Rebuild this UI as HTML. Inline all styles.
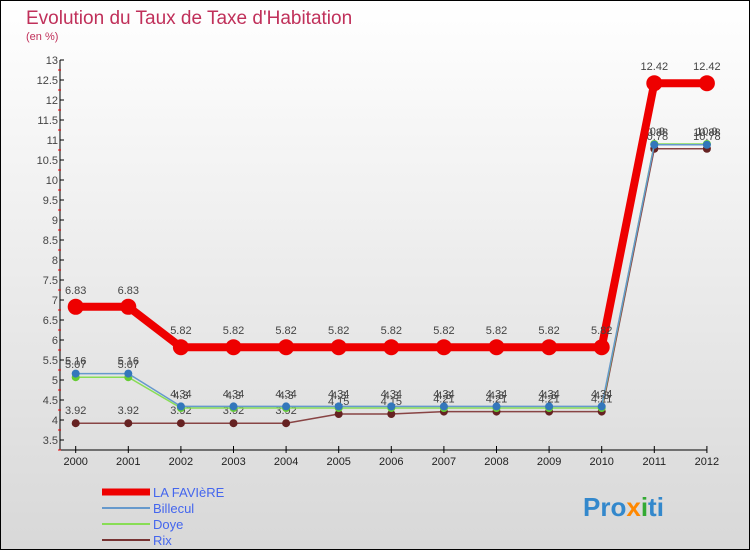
<!DOCTYPE html>
<html><head><meta charset="utf-8"><style>
body{margin:0}
#c{width:750px;height:550px;position:relative;font-family:"Liberation Sans",sans-serif;overflow:hidden}
</style></head><body>
<div id="c">
<svg id="s" width="750" height="550" xmlns="http://www.w3.org/2000/svg">
<defs><linearGradient id="bg" x1="0" y1="0" x2="0" y2="1"><stop offset="0" stop-color="#ffffff"/><stop offset="1" stop-color="#d8d8d8"/></linearGradient></defs>
<rect x="0.5" y="0.5" width="749" height="549" fill="url(#bg)" stroke="#000"/>
<text x="26" y="24" font-size="19" fill="#c0305a">Evolution du Taux de Taxe d'Habitation</text>
<text x="26" y="40" font-size="11" fill="#c0305a">(en %)</text>
<g id="ax"></g><g id="series"></g>
<g>
<line x1="102" y1="492" x2="150" y2="492" stroke="#ee0000" stroke-width="7"/><text x="153" y="497" font-size="13" fill="#4466ee">LA FAVIèRE</text>
<line x1="102" y1="508" x2="150" y2="508" stroke="#6699cc" stroke-width="2"/><text x="153" y="513" font-size="13" fill="#4466ee">Billecul</text>
<line x1="102" y1="524" x2="150" y2="524" stroke="#88dd55" stroke-width="2"/><text x="153" y="529" font-size="13" fill="#4466ee">Doye</text>
<line x1="102" y1="540" x2="150" y2="540" stroke="#773333" stroke-width="2"/><text x="153" y="545" font-size="13" fill="#4466ee">Rix</text>
</g>
<text x="583" y="516" font-size="26" font-weight="bold"><tspan fill="#3388cc">Pro</tspan><tspan fill="#ff8800">x</tspan><tspan fill="#33aa33">i</tspan><tspan fill="#3388cc">ti</tspan></text>
</svg></div>
<script>
const years=["2000","2001","2002","2003","2004","2005","2006","2007","2008","2009","2010","2011","2012"];
const faviere=[6.83,6.83,5.82,5.82,5.82,5.82,5.82,5.82,5.82,5.82,5.82,12.42,12.42];
const billecul=[5.16,5.16,4.34,4.34,4.34,4.34,4.34,4.34,4.34,4.34,4.34,10.88,10.88];
const doye=[5.07,5.07,4.3,4.3,4.3,4.3,4.3,4.3,4.3,4.3,4.3,10.9,10.9];
const rix=[3.92,3.92,3.92,3.92,3.92,4.15,4.15,4.21,4.21,4.21,4.21,10.78,10.78];
const yTicks=[3.5,4,4.5,5,5.5,6,6.5,7,7.5,8,8.5,9,9.5,10,10.5,11,11.5,12,12.5,13];
const NS="http://www.w3.org/2000/svg";
const X=i=>75.7+i*52.6, Y=v=>420-(v-4)*40;
function mk(t,a,p){const e=document.createElementNS(NS,t);for(const k in a)e.setAttribute(k,a[k]);p.appendChild(e);return e;}
const ax=document.getElementById('ax');
let l=mk('line',{x1:60,y1:Y(13),x2:60,y2:450,stroke:'#000'},ax);


l=mk('line',{x1:60,y1:450,x2:X(12),y2:450,stroke:'#000'},ax);


yTicks.forEach(v=>{mk('line',{x1:60,y1:Y(v),x2:64,y2:Y(v),stroke:'#000'},ax);
mk('line',{x1:58,y1:Y(v)+10,x2:61,y2:Y(v)+10,stroke:'#e00'},ax);
const t=mk('text',{x:58,y:Y(v)+4,'font-size':11,'text-anchor':'end',fill:'#444'},ax);t.textContent=String(v);

});
years.forEach((y,i)=>{mk('line',{x1:X(i),y1:446,x2:X(i),y2:453,stroke:'#000'},ax);
const t=mk('text',{x:X(i),y:465,'font-size':11,'text-anchor':'middle',fill:'#222'},ax);t.textContent=y;

});
const sg=document.getElementById('series');
function series(d,name,col,w,r,pc){const g=mk('g',{},sg);


mk('polyline',{points:d.map((v,i)=>X(i)+','+Y(v)).join(' '),fill:'none',stroke:col,'stroke-width':w,'stroke-linejoin':'round'},g);
d.forEach((v,i)=>{const c=mk('circle',{cx:X(i),cy:Y(v),r:r,fill:pc},g);


const t=mk('text',{x:X(i),y:Y(v)-9-(r>5?4:0),'font-size':11,'text-anchor':'middle',fill:'#444'},g);t.textContent=String(v);

});}
series(rix,'rix','#884444',1.5,4,'#662222');
series(doye,'doye','#88dd55',1.5,4,'#66cc33');
series(billecul,'billecul','#6699cc',1.5,4,'#3377bb');
series(faviere,'la-faviere','#ee0000',8,8,'#ee0000');
</script>
</body></html>
